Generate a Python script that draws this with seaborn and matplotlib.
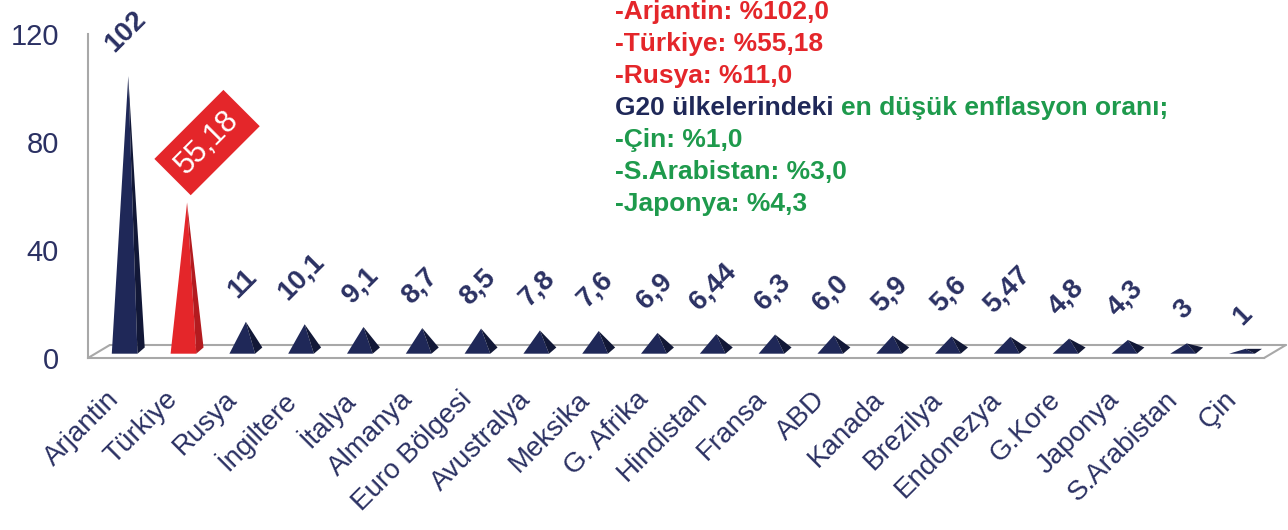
import numpy as np
import matplotlib
matplotlib.use('Agg')
import matplotlib.pyplot as plt
import matplotlib.transforms as mtransforms
from matplotlib.patches import Polygon
import seaborn as sns

# G20 inflation rates (%)
countries = ['Arjantin', 'Türkiye', 'Rusya', 'İngiltere', 'İtalya', 'Almanya',
             'Euro Bölgesi', 'Avustralya', 'Meksika', 'G. Afrika', 'Hindistan',
             'Fransa', 'ABD', 'Kanada', 'Brezilya', 'Endonezya', 'G.Kore',
             'Japonya', 'S.Arabistan', 'Çin']
rates = [102, 55.18, 11, 10.1, 9.1, 8.7, 8.5, 7.8, 7.6, 6.9, 6.44, 6.3, 6.0,
         5.9, 5.6, 5.47, 4.8, 4.3, 3, 1]
rate_labels = ['102', '55,18', '11', '10,1', '9,1', '8,7', '8,5', '7,8', '7,6',
               '6,9', '6,44', '6,3', '6,0', '5,9', '5,6', '5,47', '4,8', '4,3',
               '3', '1']
highlight = 'Türkiye'
yticks = [0, 40, 80, 120]

high_notes = ['-Arjantin: %102,0', '-Türkiye: %55,18', '-Rusya: %11,0']
mid_note = ['G20 ülkelerindeki', 'en düşük enflasyon oranı;']
low_notes = ['-Çin: %1,0', '-S.Arabistan: %3,0', '-Japonya: %4,3']

navy = '#1f2858'
navy_dark = '#121837'
red = '#e4262a'
red_dark = '#b31b1f'
green = '#1e9a4c'
gray = '#a8a8a8'
label_col = '#2b3163'

sns.set_style('white')
plt.rcParams['font.family'] = ['Liberation Sans', 'DejaVu Sans']

bar_colors = [red if c == highlight else navy for c in countries]
side_colors = [red_dark if c == highlight else navy_dark for c in countries]

fig, ax = plt.subplots(figsize=(12.88, 5.30), dpi=100)
fig.subplots_adjust(left=0.0683, right=0.9814, bottom=0.3245, top=0.9358)

sns.barplot(x=countries, y=rates, hue=countries, palette=bar_colors,
            width=0.56, legend=False, ax=ax)

n = len(countries)
# 3d floor depth: bars stand in the middle of it
dx, dy = 0.37, 4.8
bars = sorted(ax.patches, key=lambda b: b.get_x())
for i, p in enumerate(bars):
    p.set_visible(False)
    x0 = p.get_x() + dx / 2
    w = p.get_width()
    b = dy / 2
    top = b + p.get_height()
    xa = x0 + w * 0.5
    xm = x0 + w * 0.78
    ax.add_patch(Polygon([(x0, b - 0.8), (xa, top), (xm, b - 0.8)], closed=True,
                         fc=bar_colors[i], ec='none', zorder=3))
    ax.add_patch(Polygon([(xm, b - 0.8), (xa, top), (x0 + w, b + min(p.get_height(), 1.5))],
                         closed=True, fc=side_colors[i], ec='none', zorder=3))
    if countries[i] == highlight:
        ax.annotate(rate_labels[i], xy=(xa, top), xytext=(20, 60),
                    textcoords='offset pixels', ha='center', va='center',
                    rotation=45, fontsize=22, color='white',
                    bbox=dict(boxstyle='square,pad=0.35', fc=red, ec='none'),
                    annotation_clip=False, zorder=5)
    else:
        ax.annotate(rate_labels[i], xy=(xa, top), xytext=(-3, 19),
                    textcoords='offset pixels', ha='center', va='bottom',
                    rotation=45, fontsize=20, fontweight='bold', color=label_col,
                    annotation_clip=False)

floor_kw = dict(color=gray, lw=1.5, clip_on=False, zorder=1)
ax.plot([-0.5, -0.5 + dx], [0, dy], **floor_kw)
ax.plot([-0.5 + dx, n - 0.5 + dx], [dy, dy], **floor_kw)
ax.plot([n - 0.5, n - 0.5 + dx], [0, dy], **floor_kw)

ax.set_xlim(-0.5, n - 0.5)
ax.set_ylim(0, 120)
ax.set_yticks(yticks)
ax.set_xlabel('')
ax.set_ylabel('')

ax.set_xticks(range(n))
ax.set_xticklabels(countries, rotation=45, ha='right', va='center',
                   rotation_mode='anchor', fontsize=20, color=label_col)
ax.set_xticks(np.arange(-0.5, n), minor=True)
ax.tick_params(axis='x', which='major', length=0, pad=27)
ax.tick_params(axis='x', which='minor', length=5, width=1.3, color=gray)
ax.tick_params(axis='y', length=5, width=1.3, color=gray, pad=16,
               labelsize=21, labelcolor=label_col)
offset = mtransforms.ScaledTranslation(-0.02, 0, fig.dpi_scale_trans)
for lab in ax.get_xticklabels():
    lab.set_transform(lab.get_transform() + offset)

sns.despine(ax=ax)
for s in ['left', 'bottom']:
    ax.spines[s].set_color(gray)
    ax.spines[s].set_linewidth(1.5)

# notes in the upper right
nx, ny, step = 0.4775, 0.977, 0.0604
note_kw = dict(fontsize=19, fontweight='bold', va='center', ha='left')
for k, txt in enumerate(high_notes):
    fig.text(nx, ny - k * step, txt, color=red, **note_kw)
t = fig.text(nx, ny - 3 * step, mid_note[0], color=navy, **note_kw)
ax.annotate(mid_note[1], xy=(1, 0.5), xycoords=t, xytext=(7, 0),
            textcoords='offset pixels', color=green, **note_kw)
for k, txt in enumerate(low_notes):
    fig.text(nx, ny - (4 + k) * step, txt, color=green, **note_kw)

fig.savefig('out.png', dpi=100, facecolor='white')
